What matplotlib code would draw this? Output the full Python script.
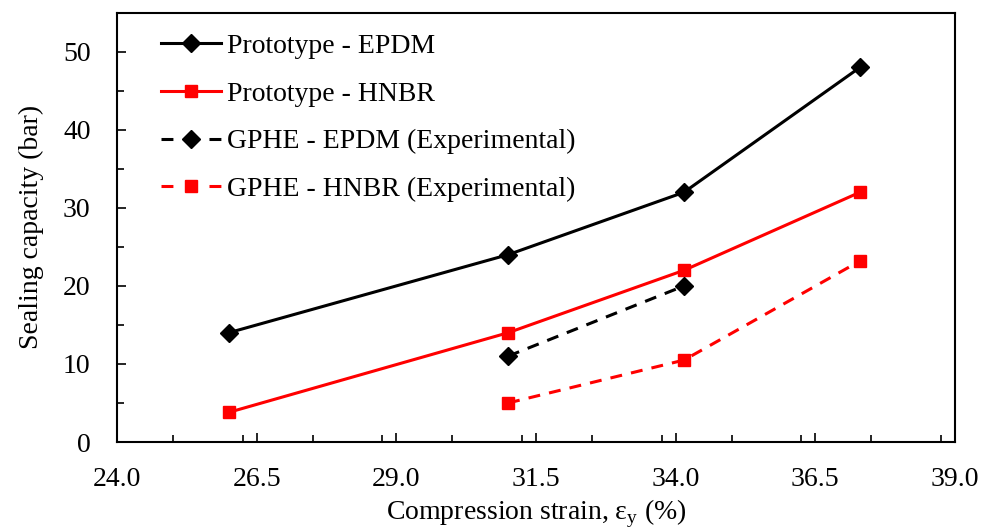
import matplotlib
matplotlib.use("Agg")
import matplotlib.pyplot as plt
from matplotlib.ticker import MultipleLocator
from matplotlib.lines import Line2D

plt.rcParams['font.family'] = ['Liberation Serif', 'DejaVu Serif']
plt.rcParams['mathtext.fontset'] = 'custom'
plt.rcParams['mathtext.rm'] = 'Liberation Serif'

proto_x = [26.0, 31.0, 34.15, 37.3]
proto_epdm = [14, 24, 32, 48]
proto_hnbr = [3.8, 14, 22, 32]
gphe_epdm_x = [31.0, 34.15]
gphe_epdm = [11, 20]
gphe_hnbr_x = [31.0, 34.15, 37.3]
gphe_hnbr = [5, 10.5, 23.2]

labels = ["Prototype - EPDM", "Prototype - HNBR",
          "GPHE - EPDM (Experimental)", "GPHE - HNBR (Experimental)"]

fig = plt.figure(figsize=(9.89, 5.30), dpi=100)
ax = fig.add_axes([0.1183, 0.166, 0.8473, 0.810])

lw = 2.2
dash = (0, (3.9, 3.0))
ax.plot(proto_x, proto_epdm, color='black', lw=lw, marker='D', ms=9)
ax.plot(proto_x, proto_hnbr, color='#ff0000', lw=lw, marker='s', ms=9)
ax.plot(gphe_epdm_x, gphe_epdm, color='black', lw=lw, ls=dash, marker='D', ms=9)
ax.plot(gphe_hnbr_x, gphe_hnbr, color='#ff0000', lw=lw, ls=dash, marker='s', ms=9)

leg_dash = (0, (3.9, 11.8))
handles = [
    Line2D([], [], color='black', lw=lw, marker='D', ms=9),
    Line2D([], [], color='#ff0000', lw=lw, marker='s', ms=9),
    Line2D([], [], color='black', lw=lw, ls=leg_dash, marker='D', ms=9),
    Line2D([], [], color='#ff0000', lw=lw, ls=leg_dash, marker='s', ms=9),
]

ax.set_xlim(24.0, 39.0)
ax.set_ylim(0, 55)
ax.xaxis.set_minor_locator(MultipleLocator(1.25))
ax.yaxis.set_minor_locator(MultipleLocator(5))
ax.set_xticks([24.0, 26.5, 29.0, 31.5, 34.0, 36.5, 39.0])
ax.set_xticklabels(["24.0", "26.5", "29.0", "31.5", "34.0", "36.5", "39.0"])
ax.set_yticks([0, 10, 20, 30, 40, 50])
ax.set_yticklabels(["0", "10", "20", "30", "40", "50"])

ax.tick_params(which='both', direction='in', labelsize=20, width=1.2, top=False, right=False)
ax.tick_params(which='major', length=6.5)
ax.tick_params(which='minor', length=5)
ax.tick_params(axis='x', which='major', pad=18)
ax.tick_params(axis='y', which='major', pad=19)

for side in ['left', 'bottom', 'top', 'right']:
    ax.spines[side].set_linewidth(1.5)

ax.set_xlabel(r'Compression strain, ε$_\mathregular{y}$ (%)', fontsize=20, labelpad=4)
ax.set_ylabel('Sealing capacity (bar)', fontsize=20, labelpad=14)

ax.legend(handles, labels, loc='upper left', frameon=False, fontsize=20, handlelength=2.15,
          handletextpad=0.2, labelspacing=0.8, bbox_to_anchor=(0.033, 0.99),
          borderaxespad=0.2)

fig.savefig('out.png', dpi=100)
